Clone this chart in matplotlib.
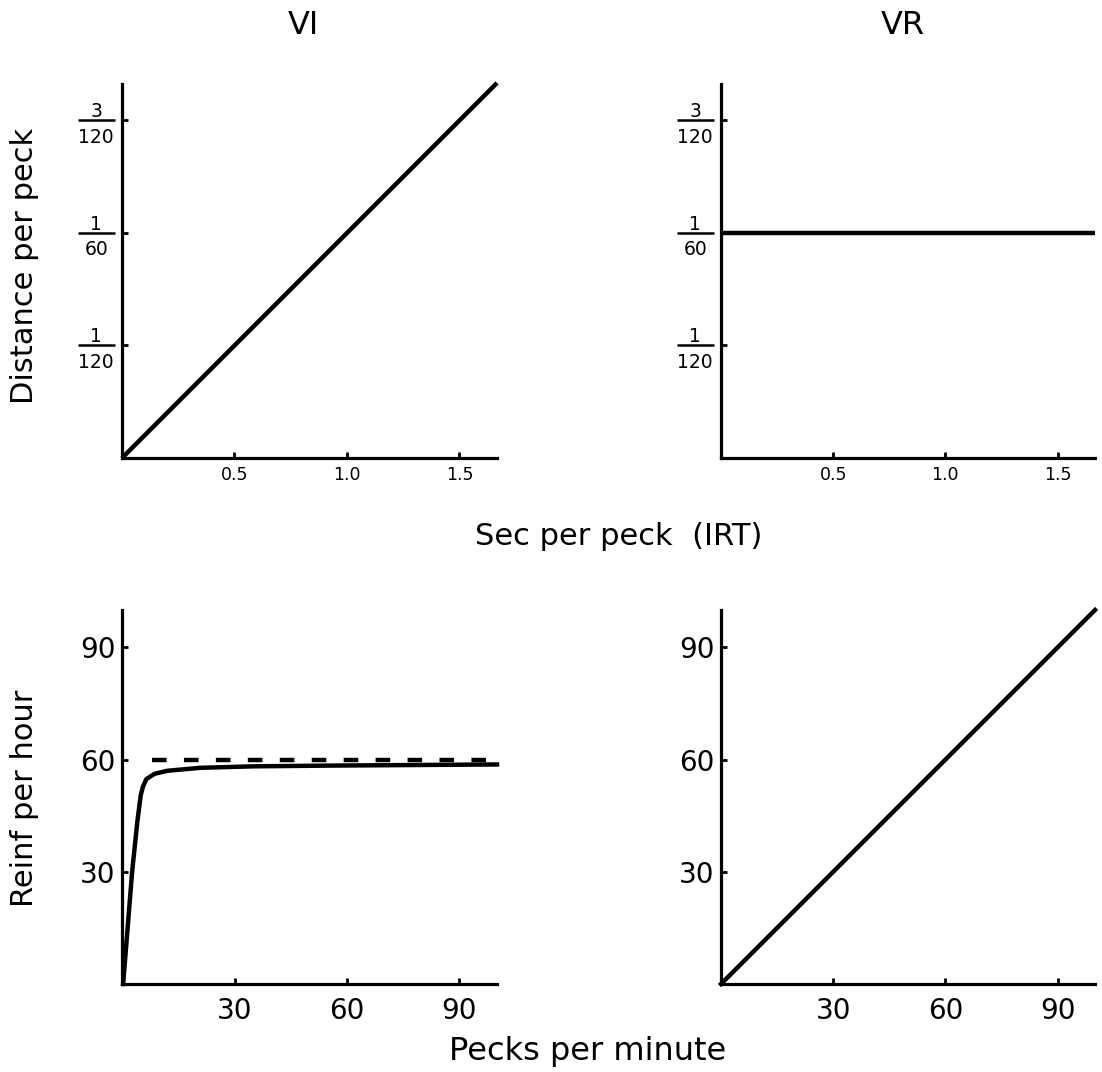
import matplotlib
matplotlib.use("Agg")
import matplotlib.pyplot as plt

# ---------------- data ----------------
panel_titles = ["VI", "VR"]
top_xlabel = "Sec per peck  (IRT)"
bottom_xlabel = "Pecks per minute"
top_ylabel = "Distance per peck"
bottom_ylabel = "Reinf per hour"

irt_ticks = [0.5, 1.0, 1.5]
irt_tick_labels = ["0.5", "1.0", "1.5"]
dist_tick_num = [1, 1, 3]
dist_tick_den = [120, 60, 120]

rate_ticks = [30, 60, 90]
rate_tick_labels = ["30", "60", "90"]

# VI: distance per peck grows with IRT
vi_irt = [0.0, 1.667]
vi_dist = [0.0, 0.02778]
# VR: constant distance per peck
vr_irt = [0.0, 1.667]
vr_dist = [1 / 60, 1 / 60]

# VI feedback function (reinf/hour vs pecks/min)
vi_rate = [0.3, 1.5, 2.7, 4.1, 5.0, 5.6, 6.5, 8.7, 12.0, 20.8, 35.0, 56.0, 100.0]
vi_reinf = [0.0, 15.0, 30.0, 43.5, 50.5, 52.8, 54.8, 56.2, 57.0, 57.8, 58.2, 58.4, 58.7]
vi_max_rate = [8.0, 100.0]
vi_max_reinf = [60.0, 60.0]
# VR feedback function
vr_rate = [0.0, 100.0]
vr_reinf = [0.0, 100.0]

# ---------------- figure ----------------
plt.rcParams["font.family"] = ["DejaVu Sans"]
plt.rcParams["lines.scale_dashes"] = False

W, H = 1102, 1072
fig = plt.figure(figsize=(W / 100, H / 100), dpi=100)


def px_axes(x0, y0, x1, y1):
    return fig.add_axes([x0 / W, 1 - y1 / H, (x1 - x0) / W, (y1 - y0) / H])


ax_tl = px_axes(122, 84, 497, 458)
ax_tr = px_axes(721, 84, 1095, 458)
ax_bl = px_axes(122, 610, 497, 984)
ax_br = px_axes(721, 610, 1095, 984)

LW = 3.2
SPW = 2.3


def style(ax):
    for s in ["top", "right"]:
        ax.spines[s].set_visible(False)
    for s in ["left", "bottom"]:
        ax.spines[s].set_linewidth(SPW)
        ax.spines[s].set_capstyle("projecting")
    ax.tick_params(direction="in", length=4.5, width=2.0, color="black")


# top row
for ax, xs, ys in [(ax_tl, vi_irt, vi_dist), (ax_tr, vr_irt, vr_dist)]:
    style(ax)
    ax.plot(xs, ys, color="black", lw=LW, clip_on=False, solid_capstyle="butt")
    ax.set_xlim(0, 1.667)
    ax.set_ylim(0, 0.02770)
    ax.set_xticks(irt_ticks)
    ax.set_xticklabels(irt_tick_labels)
    ax.tick_params(axis="x", labelsize=12.5, pad=6.0)
    vals = [n / d for n, d in zip(dist_tick_num, dist_tick_den)]
    ax.set_yticks(vals)
    ax.set_yticklabels([""] * len(vals))
    ytr = ax.get_yaxis_transform()
    ax_w = 375.0
    for n, d, v in zip(dist_tick_num, dist_tick_den, vals):
        ax.plot([-44 / ax_w, -7 / ax_w], [v, v], color="black", lw=1.8,
                transform=ytr, clip_on=False, solid_capstyle="butt")
        ax.annotate(str(n), xy=(0, v), xycoords=ytr, xytext=(-18.5, 2.4),
                    textcoords="offset points", ha="center", va="baseline",
                    fontsize=13.5)
        ax.annotate(str(d), xy=(0, v), xycoords=ytr, xytext=(-18.5, -16.0),
                    textcoords="offset points", ha="center", va="baseline",
                    fontsize=13.5)

# bottom row
style(ax_bl)
ax_bl.plot(vi_rate, vi_reinf, color="black", lw=LW, clip_on=False,
           solid_joinstyle="round")
ax_bl.plot(vi_max_rate, vi_max_reinf, color="black", lw=LW, clip_on=False,
           linestyle=(0, (10.5, 12.5)))
style(ax_br)
ax_br.plot(vr_rate, vr_reinf, color="black", lw=LW, clip_on=False)
for ax in [ax_bl, ax_br]:
    ax.set_xlim(0, 100)
    ax.set_ylim(0, 100)
    ax.set_xticks(rate_ticks)
    ax.set_xticklabels(rate_tick_labels)
    ax.set_yticks(rate_ticks)
    ax.set_yticklabels(rate_tick_labels)
    ax.tick_params(axis="both", labelsize=20)
    ax.tick_params(axis="x", pad=9.5)
    ax.tick_params(axis="y", pad=4.5)

# titles and labels
fig.text(303 / W, 1 - 34 / H, panel_titles[0], ha="center", va="baseline", fontsize=23)
fig.text(903 / W, 1 - 34 / H, panel_titles[1], ha="center", va="baseline", fontsize=23)
fig.text(619 / W, 1 - 545 / H, top_xlabel, ha="center", va="baseline", fontsize=22)
fig.text(588 / W, 1 - 1060 / H, bottom_xlabel, ha="center", va="baseline", fontsize=23)
fig.text(33 / W, 1 - 266 / H, top_ylabel, rotation=90, rotation_mode="anchor",
         ha="center", va="baseline", fontsize=22)
fig.text(33 / W, 1 - 798 / H, bottom_ylabel, rotation=90, rotation_mode="anchor",
         ha="center", va="baseline", fontsize=22)

fig.savefig("out.png", dpi=100, facecolor="white")
